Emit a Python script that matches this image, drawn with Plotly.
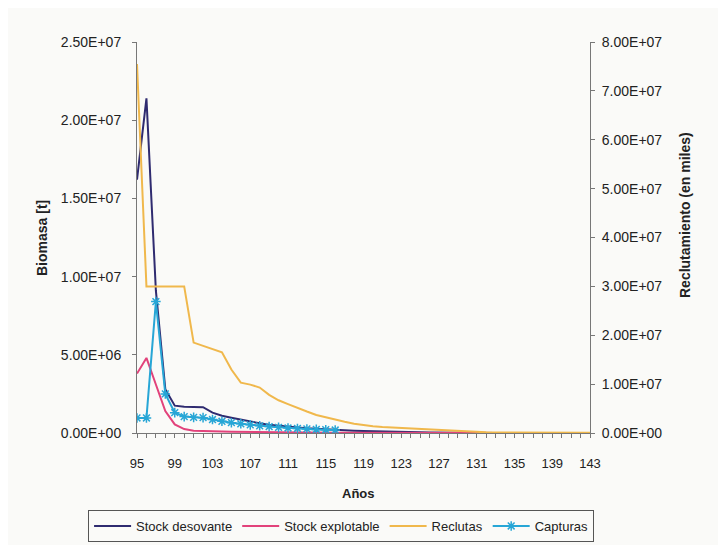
import plotly.graph_objects as go

# years (category labels on x axis)
years = list(range(95, 144))

# Stock desovante [t] (left axis)
stock_desovante = [1.62e7, 2.14e7, 9.1e6, 2.8e6, 1.75e6, 1.68e6, 1.66e6, 1.65e6, 1.3e6, 1.1e6,
                   9.8e5, 8.5e5, 7.2e5, 6.2e5, 5.3e5, 4.6e5, 4.0e5, 3.5e5, 3.0e5, 2.6e5,
                   2.2e5, 1.9e5, 1.6e5, 1.4e5, 1.2e5, 1.0e5, 8.5e4, 7.0e4, 6.0e4, 5.0e4,
                   4.0e4, 3.0e4, 2.0e4, 1.5e4, 1.2e4, 1.0e4, 8.0e3, 6.0e3, 5.0e3, 4.0e3,
                   3.0e3, 2.5e3, 2.0e3, 1.5e3, 1.2e3, 1.0e3, 8.0e2, 6.0e2, 5.0e2]

# Stock explotable [t] (left axis)
stock_explotable = [3.8e6, 4.8e6, 3.1e6, 1.4e6, 5.5e5, 2.5e5, 1.5e5, 1.2e5, 1.0e5, 9.0e4,
                    8.0e4, 7.0e4, 6.0e4, 5.0e4, 4.5e4, 4.0e4, 3.5e4, 3.0e4, 2.5e4, 2.0e4,
                    1.8e4, 1.5e4, 1.2e4, 1.0e4, 8.0e3, 6.0e3, 5.0e3, 4.0e3, 3.0e3, 2.5e3,
                    2.0e3, 1.5e3, 1.2e3, 1.0e3, 8.0e2, 6.0e2, 5.0e2, 4.0e2, 3.0e2, 2.5e2,
                    2.0e2, 1.5e2, 1.2e2, 1.0e2, 8.0e1, 6.0e1, 5.0e1, 4.0e1, 3.0e1]

# Reclutas (en miles) (right axis)
reclutas = [7.55e7, 3.0e7, 3.0e7, 3.0e7, 3.0e7, 3.0e7, 1.85e7, 1.78e7, 1.72e7, 1.65e7,
            1.3e7, 1.03e7, 9.9e6, 9.3e6, 7.8e6, 6.7e6, 5.9e6, 5.1e6, 4.4e6, 3.7e6,
            3.2e6, 2.8e6, 2.3e6, 1.9e6, 1.6e6, 1.4e6, 1.25e6, 1.15e6, 1.05e6, 9.5e5,
            8.0e5, 6.5e5, 5.0e5, 4.0e5, 3.0e5, 2.0e5, 1.6e5, 1.4e5, 1.2e5, 1.0e5,
            9.0e4, 8.0e4, 7.0e4, 6.0e4, 5.5e4, 5.0e4, 4.5e4, 4.0e4, 3.5e4]

# Capturas [t] (left axis), years 95-116
capturas_years = list(range(95, 117))
capturas = [9.6e5, 9.6e5, 8.4e6, 2.5e6, 1.3e6, 1.05e6, 1.0e6, 9.8e5, 8.6e5, 7.5e5,
            6.6e5, 5.9e5, 5.2e5, 4.6e5, 4.1e5, 3.6e5, 3.2e5, 2.9e5, 2.6e5, 2.3e5,
            2.1e5, 1.9e5]

# axis ticks
left_ticks = [0, 5e6, 1e7, 1.5e7, 2e7, 2.5e7]
left_labels = ["0.00E+00", "5.00E+06", "1.00E+07", "1.50E+07", "2.00E+07", "2.50E+07"]
right_ticks = [0, 1e7, 2e7, 3e7, 4e7, 5e7, 6e7, 7e7, 8e7]
right_labels = ["0.00E+00", "1.00E+07", "2.00E+07", "3.00E+07", "4.00E+07",
                "5.00E+07", "6.00E+07", "7.00E+07", "8.00E+07"]
x_ticks = list(range(95, 144, 4))

fig = go.Figure()
fig.add_trace(go.Scatter(x=years, y=stock_desovante, name="Stock desovante",
                         mode="lines", line=dict(color="#2f2b70", width=2)))
fig.add_trace(go.Scatter(x=years, y=stock_explotable, name="Stock explotable",
                         mode="lines", line=dict(color="#e2427b", width=2)))
fig.add_trace(go.Scatter(x=years, y=reclutas, name="Reclutas", yaxis="y2",
                         mode="lines", line=dict(color="#f0b84c", width=2)))
fig.add_trace(go.Scatter(x=capturas_years, y=capturas, name="Capturas",
                         mode="lines+markers", line=dict(color="#27a6d6", width=2),
                         marker=dict(symbol="asterisk-open", size=8,
                                     line=dict(color="#27a6d6", width=1.5))))

fnt = "Liberation Sans, Arial, sans-serif"
axis_common = dict(showgrid=False, zeroline=False, showline=True, linecolor="#777",
                   ticks="outside", ticklen=4, tickcolor="#777", automargin=False)

fig.update_layout(
    width=710, height=537,
    margin=dict(l=129, r=128, t=34, b=112, autoexpand=False),
    paper_bgcolor="#fafaf8", plot_bgcolor="#fafaf8",
    font=dict(family=fnt, size=13, color="#222"),
    showlegend=True,
    legend=dict(orientation="h", x=-0.108, xanchor="left", y=-0.197, yanchor="top",
                bordercolor="#555", borderwidth=1, bgcolor="#fafaf8",
                font=dict(family=fnt, size=13, color="#222"), itemwidth=37),
    xaxis=dict(range=[95, 143], tickvals=x_ticks, ticktext=[str(v) for v in x_ticks],
               minor=dict(dtick=1, tick0=95, ticks="outside", ticklen=4, tickcolor="#777"),
               ticklabelstandoff=14, tickfont=dict(size=13), **axis_common),
    yaxis=dict(range=[0, 2.5e7], tickvals=left_ticks, ticktext=left_labels,
               ticklabelstandoff=8, tickfont=dict(size=14), **axis_common),
    yaxis2=dict(range=[0, 8e7], tickvals=right_ticks, ticktext=right_labels,
                overlaying="y", side="right", ticklabelstandoff=4,
                tickfont=dict(size=14), **axis_common),
    annotations=[
        dict(text="<b>Biomasa [t]</b>", xref="paper", yref="paper", x=-0.2097, y=0.4987,
             xanchor="center", yanchor="middle", textangle=-90, showarrow=False,
             font=dict(size=14)),
        dict(text="<b>Reclutamiento (en miles)</b>", xref="paper", yref="paper",
             x=1.2097, y=0.5575, xanchor="center", yanchor="middle", textangle=-90,
             showarrow=False, font=dict(size=14)),
        dict(text="<b>Años</b>", xref="paper", yref="paper", x=0.488, y=-0.1535,
             xanchor="center", yanchor="middle", showarrow=False, font=dict(size=13)),
    ],
)

fig.write_html("out.html")
